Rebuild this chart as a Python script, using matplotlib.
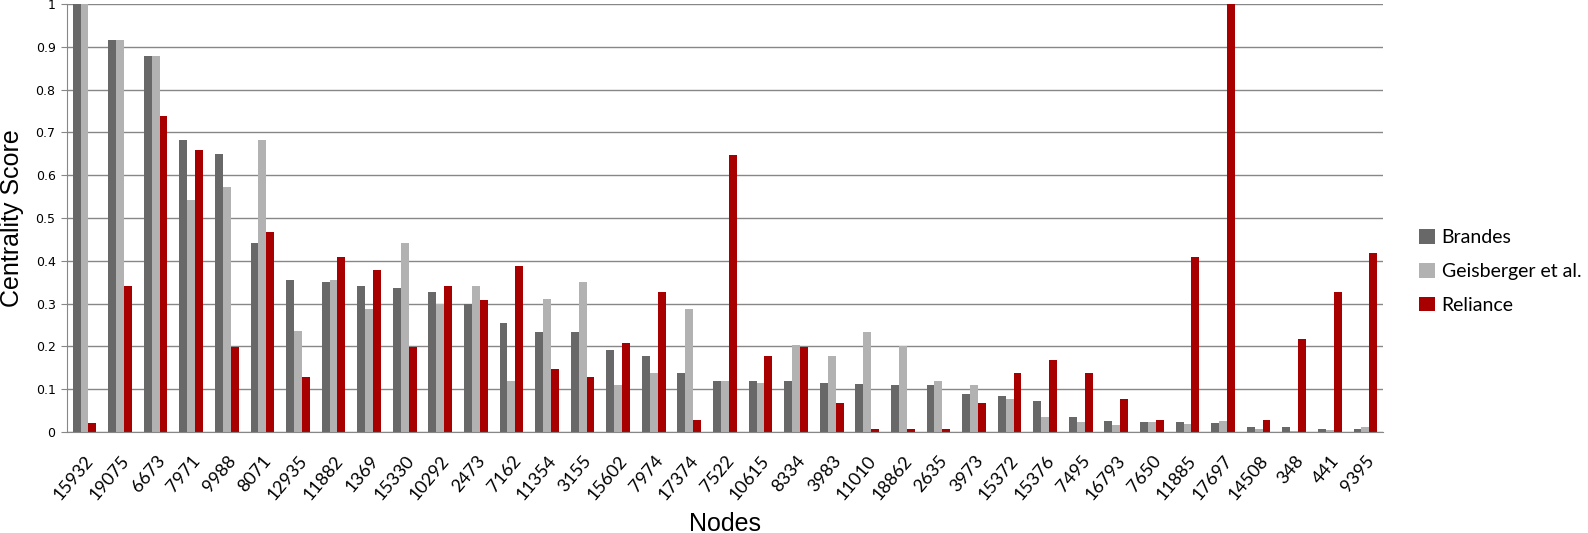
import matplotlib as mpl
mpl.use('Agg')
from matplotlib import pyplot as plt
import numpy as np

nodes = ['15932', '19075', '6673', '7971', '9988', '8071', '12935', '11882', '1369',
         '15330', '10292', '2473', '7162', '11354', '3155', '15602', '7974', '17374',
         '7522', '10615', '8334', '3983', '11010', '18862', '2635', '3973', '15372',
         '15376', '7495', '16793', '7650', '11885', '17697', '14508', '348', '441', '9395']
brandes = [1.0, 0.917, 0.879, 0.683, 0.650, 0.442, 0.356, 0.351, 0.340, 0.337,
           0.328, 0.300, 0.254, 0.234, 0.234, 0.192, 0.178, 0.139, 0.120, 0.120,
           0.118, 0.115, 0.113, 0.110, 0.110, 0.089, 0.085, 0.073, 0.036, 0.026,
           0.024, 0.024, 0.022, 0.012, 0.012, 0.008, 0.008]
geisberger = [1.0, 0.917, 0.879, 0.542, 0.573, 0.683, 0.235, 0.356, 0.288, 0.442,
              0.300, 0.340, 0.120, 0.311, 0.351, 0.110, 0.139, 0.288, 0.118, 0.115,
              0.204, 0.178, 0.234, 0.202, 0.120, 0.110, 0.078, 0.036, 0.024, 0.017,
              0.024, 0.019, 0.026, 0.008, 0.003, 0.005, 0.012]
reliance = [0.02, 0.34, 0.739, 0.659, 0.199, 0.468, 0.129, 0.409, 0.379, 0.199,
            0.340, 0.309, 0.388, 0.148, 0.129, 0.209, 0.328, 0.029, 0.647, 0.178,
            0.199, 0.068, 0.008, 0.008, 0.008, 0.068, 0.139, 0.169, 0.139, 0.078,
            0.029, 0.409, 1.0, 0.029, 0.218, 0.328, 0.419]

fig = plt.figure(figsize=(15.88, 5.33), dpi=100)
ax = fig.add_axes([0.042, 0.1895, 0.829, 0.803])

x = np.arange(len(nodes))
w = 0.222
ax.bar(x - w, brandes, w, color='#686868', label='Brandes', zorder=2)
ax.bar(x, geisberger, w, color='#b2b2b2', label='Geisberger et al.', zorder=2)
ax.bar(x + w, reliance, w, color='#a80000', label='Reliance', zorder=2)

ax.set_xlim(-0.5, len(nodes) - 0.5)
ax.set_ylim(0, 1)
ax.set_yticks(np.arange(0, 1.01, 0.1))
ax.set_yticklabels(['0', '0.1', '0.2', '0.3', '0.4', '0.5', '0.6', '0.7', '0.8', '0.9', '1'],
                   fontsize=9)
ax.yaxis.grid(True, color='#878787', linewidth=1.0, zorder=0)
ax.set_axisbelow(True)
ax.tick_params(axis='y', length=4, color='#878787', pad=4)
ax.tick_params(axis='x', length=0, pad=15)
ax.set_xticks(x)
ax.set_xticklabels(nodes, rotation=50, ha='right', va='top', rotation_mode='anchor',
                   fontsize=13, family='Lato')
for s in ['top', 'right']:
    ax.spines[s].set_visible(False)
ax.spines['left'].set_color('#878787')
ax.spines['bottom'].set_color('#878787')

ax.set_ylabel('Centrality Score', fontsize=18, family=['Liberation Sans Narrow', 'Liberation Sans'],
              labelpad=8)
ax.set_xlabel('Nodes', fontsize=18, family=['Liberation Sans Narrow', 'Liberation Sans'],
              labelpad=6)

ax.legend(loc='center left', bbox_to_anchor=(1.02, 0.375), frameon=False,
          prop={'family': 'Lato', 'size': 14}, handlelength=0.8, handleheight=0.8,
          handletextpad=0.35, labelspacing=0.85, borderpad=0)

plt.savefig('out.png', dpi=100)
